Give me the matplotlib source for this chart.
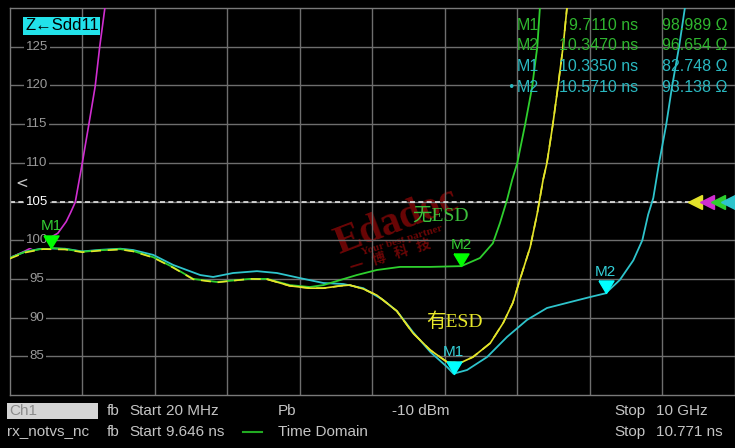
import matplotlib
matplotlib.use("Agg")
import matplotlib.pyplot as plt
from matplotlib import transforms

W, H = 735, 448

T_START, T_STOP = 9.646, 10.771
Z_BOT, Z_TOP = 80, 130
Z_TICKS = [85, 90, 95, 100, 105, 110, 115, 120, 125]
Z_REF = 105

# traces: time (ns) / impedance (ohm)
mag_t = [9.646, 9.670, 9.698, 9.721, 9.734, 9.741, 9.748, 9.759, 9.769, 9.779, 9.786, 9.794, 9.796]
mag_z = [97.7, 98.6, 99.8, 100.9, 102.4, 103.6, 104.9, 110.0, 114.9, 119.9, 125.0, 130.0, 131.5]

grn_t = [9.646, 9.670, 9.698, 9.711, 9.732, 9.759, 9.786, 9.818, 9.838, 9.869, 9.900, 9.931,
         9.968, 10.019, 10.046, 10.081, 10.112, 10.133, 10.159, 10.185, 10.216, 10.252, 10.299,
         10.347, 10.376, 10.396, 10.407, 10.418, 10.426, 10.434, 10.446, 10.457, 10.465, 10.469, 10.472]
grn_z = [97.7, 98.5, 98.9, 98.99, 98.86, 98.5, 98.7, 98.85, 98.6, 97.8, 96.5, 95.0,
         94.6, 95.0, 95.0, 94.2, 93.95, 94.2, 94.85, 95.5, 96.15, 96.55, 96.55,
         96.65, 97.7, 99.6, 102.2, 105.2, 107.8, 110.0, 114.9, 119.8, 125.0, 130.0, 131.5]

yel_t = [9.646, 9.670, 9.698, 9.732, 9.759, 9.786, 9.818, 9.838, 9.869, 9.900, 9.931, 9.968,
         10.019, 10.046, 10.081, 10.112, 10.133, 10.159, 10.174, 10.195, 10.216, 10.247, 10.272,
         10.299, 10.325, 10.345, 10.365, 10.392, 10.412, 10.427, 10.438, 10.454, 10.465, 10.474,
         10.480, 10.489, 10.497, 10.505, 10.511, 10.513]
yel_z = [97.6, 98.4, 98.85, 98.8, 98.45, 98.65, 98.8, 98.55, 97.75, 96.45, 94.95, 94.55,
         95.0, 94.95, 94.1, 93.8, 93.8, 94.1, 94.2, 93.7, 92.9, 90.85, 88.0,
         85.8, 84.26, 84.13, 84.9, 86.7, 89.3, 91.9, 94.9, 99.1, 103.5, 107.8,
         110.0, 114.9, 119.8, 125.0, 130.0, 131.5]

cyn_t = [9.646, 9.670, 9.698, 9.732, 9.759, 9.786, 9.818, 9.838, 9.869, 9.900, 9.942, 9.962,
         9.993, 10.030, 10.061, 10.097, 10.133, 10.164, 10.195, 10.226, 10.247, 10.272, 10.299,
         10.325, 10.335, 10.356, 10.387, 10.418, 10.449, 10.480, 10.511, 10.547, 10.571, 10.593,
         10.614, 10.628, 10.637, 10.645, 10.654, 10.665, 10.674, 10.685, 10.694, 10.696]
cyn_z = [97.7, 98.5, 98.95, 98.9, 98.55, 98.75, 98.9, 98.73, 98.1, 96.8, 95.5, 95.25,
         95.76, 96.0, 95.76, 95.1, 94.47, 94.34, 93.8, 92.27, 90.85, 88.14, 85.56,
         83.62, 82.75, 83.23, 84.9, 87.5, 89.7, 91.24, 91.9, 92.66, 93.14, 94.86,
         97.4, 100.0, 103.3, 105.45, 110.0, 114.9, 119.8, 125.0, 130.0, 131.5]

# marker readout (name, time ns, value ohm)
grn_marks = [("M1", 9.7110, 98.989), ("M2", 10.3470, 96.654)]
cyn_marks = [("M1", 10.3350, 82.748), ("M2", 10.5710, 93.138)]

MAG, GRN, YEL, CYN = "#d02ed0", "#2ecf2e", "#e4e42a", "#2ec4cc"
GRN_TXT, CYN_TXT = "#2fb52f", "#2ab8c0"
SANS = ["Liberation Sans", "DejaVu Sans"]
CJK = ["Liberation Serif", "Noto Sans CJK SC", "DejaVu Sans"]
WM = "#6a0606"


def px(x, y):
    """screen pixel (from top-left) -> figure fraction"""
    return x / W, 1 - y / H


fig = plt.figure(figsize=(W / 100, H / 100), dpi=100, facecolor="black")
x0, y1 = px(9.5, 8)
x1, y0 = px(734.5, 395)
ax = fig.add_axes([x0, y0, x1 - x0, y1 - y0], facecolor="black")
ax.set_xlim(T_START, T_STOP)
ax.set_ylim(Z_BOT, Z_TOP)

div = (T_STOP - T_START) / 10
ax.set_xticks([T_START + k * div for k in range(1, 10)])
ax.set_yticks(list(range(Z_BOT + 5, Z_TOP, 5)))
ax.tick_params(length=0, labelbottom=False, labelleft=False)
ax.grid(True, color="#6e6e6e", lw=1.0)
for s in ax.spines.values():
    s.set_color("#7a7a7a")
    s.set_linewidth(1.0)

# reference level line
ax.axhline(Z_REF, color="#e6e6e6", lw=1.2, ls=(0, (3, 2)), zorder=2)

# watermark
fa = ax.transAxes.inverted().transform
ff = fig.transFigure.transform
ax.text(*fa(ff(px(396, 222))), "Edadoc", transform=ax.transAxes, color=WM, fontsize=29,
        family="Liberation Serif", weight="bold", rotation=21, ha="center", va="center", zorder=1)
ax.text(*fa(ff(px(402, 240))), "Your best partner", transform=ax.transAxes, color=WM, fontsize=8,
        family="Liberation Serif", weight="bold", rotation=17, ha="center", va="center", zorder=1)
ax.text(*fa(ff(px(390, 256))), "一   博   科   技", transform=ax.transAxes, color=WM, fontsize=10,
        family="Noto Sans CJK SC", weight="bold", rotation=17, ha="center", va="center", zorder=1)

ax.plot(mag_t, mag_z, color=MAG, lw=1.2, zorder=3)
ax.plot(cyn_t, cyn_z, color=CYN, lw=1.3, zorder=3)
ax.plot(grn_t, grn_z, color=GRN, lw=1.3, zorder=4)
ax.plot(yel_t, yel_z, color=YEL, lw=1.2, zorder=4, ls=(0, (6, 4)))
ax.plot(yel_t[13:], yel_z[13:], color=YEL, lw=1.2, zorder=4)

# y labels drawn inside the grid
ylab = transforms.blended_transform_factory(ax.transAxes, ax.transData)
for z in Z_TICKS:
    ax.text(0.038, z, str(z), transform=ylab, ha="center", va="center", fontsize=9.5,
            color="white" if z == Z_REF else "#9a9a9a", family=SANS, zorder=5,
            bbox=dict(facecolor="black", edgecolor="none", pad=1.0))
ax.text(0.017, 0.548, "<", transform=ax.transAxes, ha="center", va="center",
        fontsize=11, color="#c8c8c8", zorder=5)

# reference level arrows, one per trace
for xf, c in zip([0.9455, 0.962, 0.977, 0.991], [YEL, MAG, GRN, CYN]):
    ax.plot([xf], [Z_REF], marker="<", ms=10, color=c, mec=c, transform=ylab,
            clip_on=False, zorder=6)

# markers: triangle tip sits on the trace
tri = [(-0.6, 1.0), (0.6, 1.0), (0, 0), (-0.6, 1.0)]
for marks, mc, tc in [(grn_marks, "#00ff00", "#33cc33"), (cyn_marks, "#00ffff", "#33d0d8")]:
    for name, t, z in marks:
        ax.plot([t], [z], marker=tri, ms=18, color=mc, mec=mc, zorder=7)
        ax.annotate(name, (t, z), xytext=(0, 10.5), textcoords="offset points",
                    ha="center", va="bottom", fontsize=11, color=tc, family=SANS, zorder=7)

ax.text(*fa(ff(px(440, 216))), "无ESD", transform=ax.transAxes, ha="center", va="center",
        fontsize=14, color="#3cbf3c", family=CJK, zorder=6)
ax.text(*fa(ff(px(454, 322))), "有ESD", transform=ax.transAxes, ha="center", va="center",
        fontsize=14, color="#e8e82a", family=CJK, zorder=6)

# title tag
fig.text(*px(25, 26), "Z←Sdd11", ha="left", va="center", fontsize=12, color="black",
         family=SANS, bbox=dict(facecolor="#22e2ea", edgecolor="none", pad=1.2))

# marker readout table
rows = [(n, t, z, GRN_TXT) for n, t, z in grn_marks] + [(n, t, z, CYN_TXT) for n, t, z in cyn_marks]
for i, (name, t, z, c) in enumerate(rows):
    y = 25.5 + i * 20.5
    fig.text(*px(517, y), name, ha="left", va="center", fontsize=11.5, color=c, family=SANS)
    fig.text(*px(638, y), f"{t:.4f} ns", ha="right", va="center", fontsize=11.5, color=c, family=SANS)
    fig.text(*px(728, y), f"{z:.3f} Ω", ha="right", va="center", fontsize=11.5, color=c, family=SANS)
fig.text(*px(511, 25.5 + 3 * 20.5), "•", ha="center", va="center", fontsize=9, color=CYN_TXT)

# status bar
SB = "#c4c4c4"
fig.patches.append(plt.Rectangle(px(7, 419), 91 / W, 16 / H, transform=fig.transFigure,
                                 facecolor="#d4d4d4", edgecolor="none"))
row1 = [(9, "Ch1"), (107, "fb"), (129, "Start"), (166, "20 MHz"), (278, "Pb"),
        (392, "-10 dBm"), (614, "Stop"), (656, "10 GHz")]
row2 = [(7, "rx_notvs_nc"), (107, "fb"), (129, "Start"), (166, "9.646 ns"), (278, "Time Domain"),
        (614, "Stop"), (656, "10.771 ns")]
for x, s in row1:
    fig.text(*px(x, 411), s, ha="left", va="center", fontsize=11, family=SANS,
             color="#8c8c8c" if s == "Ch1" else SB)
for x, s in row2:
    fig.text(*px(x, 432), s, ha="left", va="center", fontsize=11, family=SANS, color=SB)
fig.lines.append(plt.Line2D([243 / W, 262 / W], [1 - 432 / H] * 2, transform=fig.transFigure,
                            color="#22aa22", lw=1.5))

fig.savefig("out.png", dpi=100, facecolor="black")
